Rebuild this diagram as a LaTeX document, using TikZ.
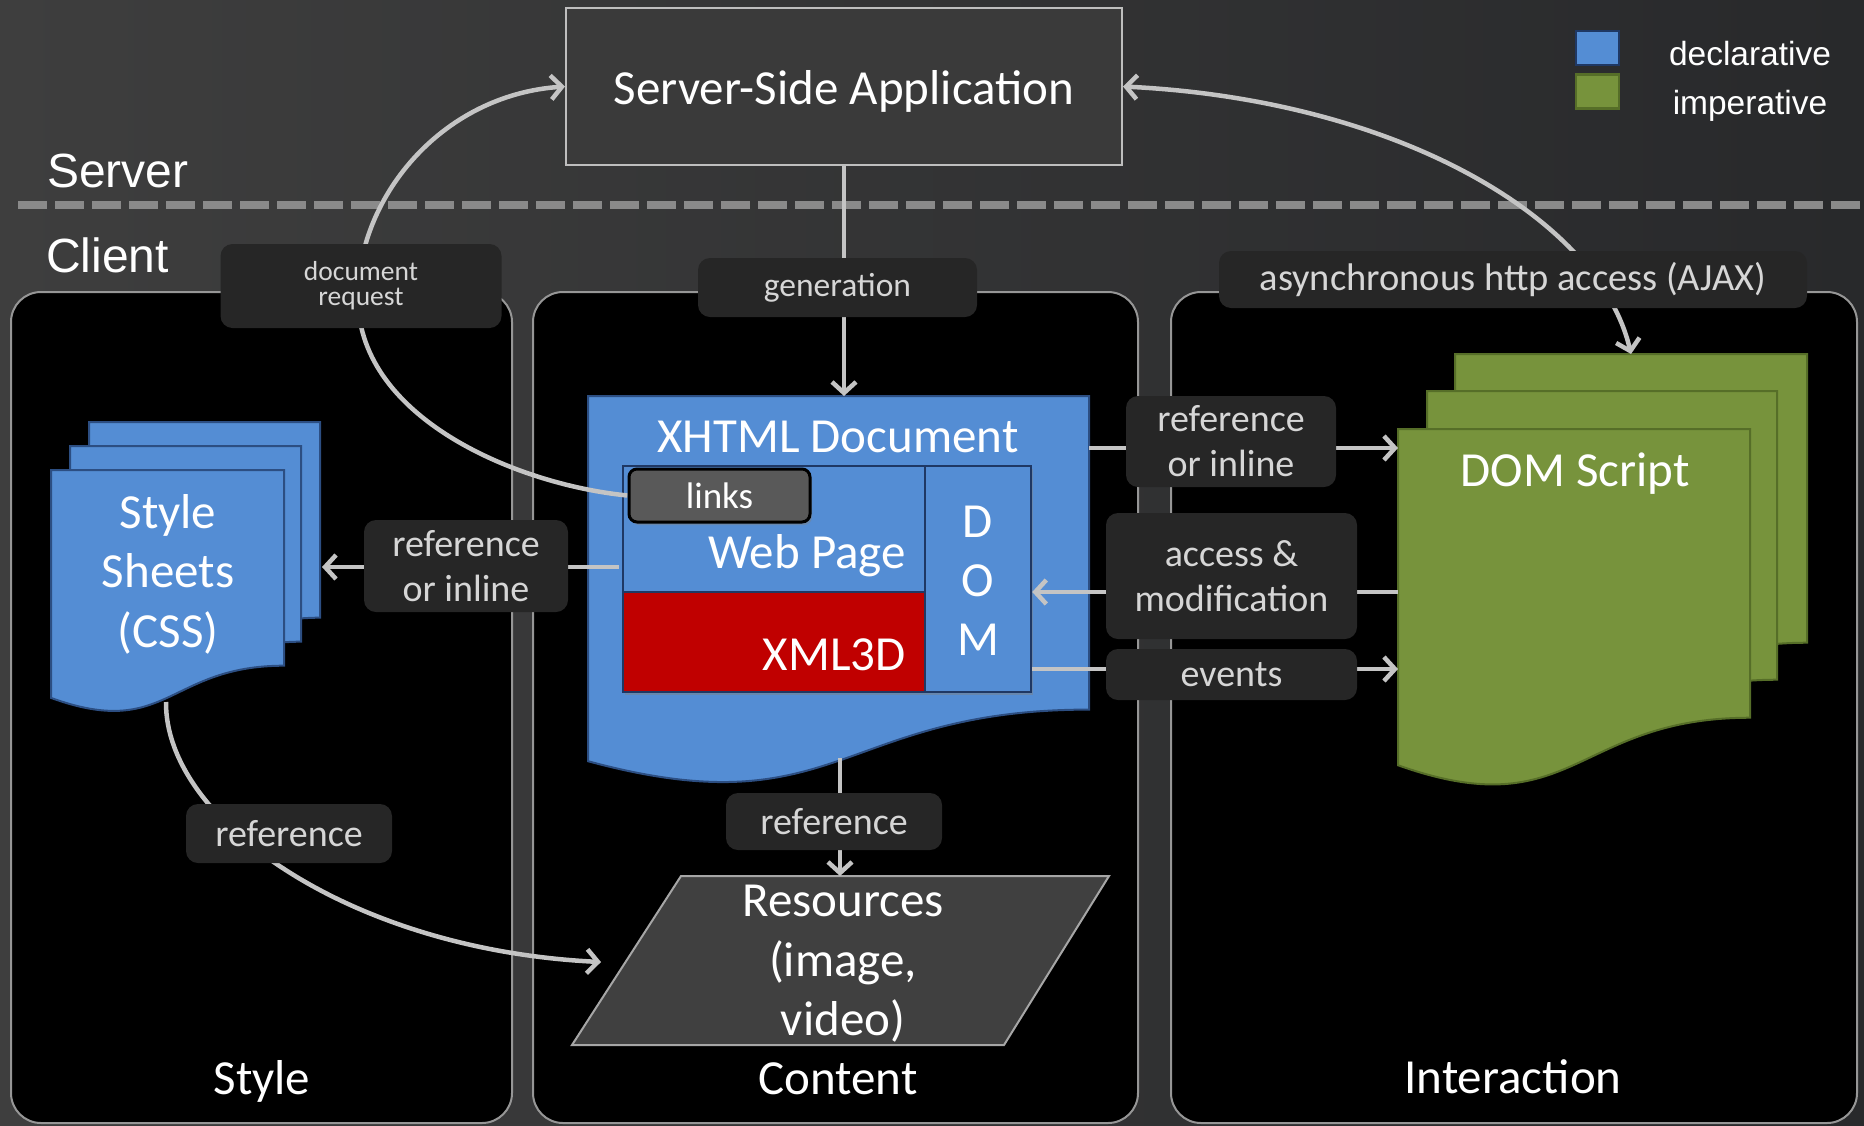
\documentclass[tikz,border=0pt]{standalone}
\usepackage{fontspec}
\setmainfont{Carlito}
\newfontfamily\arialf{Liberation Sans}
\usetikzlibrary{arrows.meta,shadows}
\pgfdeclarelayer{fg}
\pgfsetlayers{main,fg}
\definecolor{bgL}{RGB}{62,62,62}
\definecolor{bgR}{RGB}{40,41,43}
\definecolor{dashc}{RGB}{138,138,138}
\definecolor{arrc}{RGB}{196,196,196}
\definecolor{lblfill}{RGB}{38,38,38}
\definecolor{lbltext}{RGB}{214,214,214}
\definecolor{docblue}{RGB}{84,141,212}
\definecolor{docblueb}{RGB}{44,78,130}
\definecolor{navy}{RGB}{31,56,100}
\definecolor{xred}{RGB}{192,0,0}
\definecolor{docgreen}{RGB}{119,147,60}
\definecolor{docgreenb}{RGB}{86,110,40}
\definecolor{resfill}{RGB}{64,64,64}
\definecolor{resb}{RGB}{166,166,166}
\definecolor{linksfill}{RGB}{89,89,89}
\definecolor{panelb}{RGB}{150,150,150}
\definecolor{srvfill}{RGB}{58,58,58}
\definecolor{srvb}{RGB}{190,190,190}
\newcommand\fsz[2]{\fontsize{#1}{#2}\selectfont}
% #1 style, #2 x, #3 y, #4 width, #5 height
\newcommand\docshape[5]{%
  \path[#1] (#2,#3) -- ({#2+#4},#3) -- ({#2+#4},{#3+0.802*#5})
    .. controls ({#2+0.5*#4},{#3+0.802*#5}) and ({#2+0.5*#4},{#3+1.1075*#5}) .. (#2,{#3+0.934*#5}) -- cycle;}
\begin{document}
\begin{tikzpicture}[x=1pt,y=-1pt,
  conn/.style={draw=arrc,line width=4.5pt},
  arr/.style={conn,-{Straight Barb[length=11pt,width=24pt]}},
  dblarr/.style={conn,{Straight Barb[length=11pt,width=24pt]}-{Straight Barb[length=11pt,width=24pt]}},
  lbl/.style={fill=lblfill,rounded corners=12pt,text=lbltext,inner sep=0pt,align=center,font=\fsz{38}{45}},
  wtxt/.style={text=white,inner sep=0pt,align=center,font=\fsz{49}{59.5}},
  panel/.style={draw=panelb,line width=2pt,fill=black,rounded corners=30pt,inner sep=0pt},
  cell/.style={draw=navy,line width=2.5pt,inner sep=0pt,drop shadow={shadow xshift=2pt,shadow yshift=-3pt,opacity=0.45}},
  bluedoc/.style={fill=docblue,draw=docblueb,line width=2pt},
  greendoc/.style={fill=docgreen,draw=docgreenb,line width=2pt},
]
\useasboundingbox (0,0) rectangle (1864,1125);
\fill[left color=bgL,right color=bgR] (0,0) rectangle (1864,1125);

% server / client separation
\draw[dashc,line width=8pt,dash pattern=on 29pt off 8pt] (18,205) -- (1864,205);
\node[text=white,inner sep=0pt,anchor=base west,font=\arialf\fsz{48}{56}] (server) at (47,187) {Server};
\node[text=white,inner sep=0pt,anchor=base west,font=\arialf\fsz{48}{56}] (client) at (46,272) {Client};

% legend
\node[fill=docblue,draw=navy,line width=2.5pt,minimum width=43pt,minimum height=34pt,inner sep=0pt] (legblue) at (1597.5,48) {};
\node[fill=docgreen,draw=docgreenb,line width=2.5pt,minimum width=43pt,minimum height=34pt,inner sep=0pt] (leggreen) at (1597.5,91.5) {};
\node[text=white,inner sep=0pt,anchor=base,font=\arialf\fsz{33.5}{38}] (legdecl) at (1750,65) {declarative};
\node[text=white,inner sep=0pt,anchor=base,font=\arialf\fsz{33.5}{38}] (legimp) at (1750,114) {imperative};

% server box
\node[fill=srvfill,draw=srvb,line width=2pt,minimum width=556pt,minimum height=157pt,inner sep=0pt] (srv) at (844,86.5) {};
\node[wtxt,anchor=base] (srvtext) at (844,104) {Server-Side Application};

% panels
\node[panel,minimum width=501pt,minimum height=831pt] (pstyle) at (261.5,707.5) {};
\node[panel,minimum width=605pt,minimum height=831pt] (pcontent) at (835.5,707.5) {};
\node[panel,minimum width=686pt,minimum height=831pt] (pinter) at (1514,707.5) {};
\node[wtxt,anchor=base] (tstyle) at (262,1094) {Style};
\node[wtxt,anchor=base] (tcontent) at (838,1094) {Content};
\node[wtxt,anchor=base] (tinter) at (1513,1093) {Interaction};

% style sheets
\docshape{bluedoc}{89}{422}{231}{244}
\docshape{bluedoc}{70}{446}{231}{244}
\docshape{bluedoc}{51}{470}{233}{244}
\node[wtxt] (csstext) at (168,574) {Style\\Sheets\\(CSS)};
\coordinate (css-e) at (322,567);
\coordinate (css-s) at (166,702);

% XHTML document
\docshape{bluedoc}{588}{396}{501}{391}
\node[wtxt,anchor=base] (xhtext) at (838,452) {XHTML Document};
\coordinate (xh-n) at (842,396);
\coordinate (xh-e) at (1089,448);
\coordinate (xh-s) at (840,758);
\node[cell,fill=docblue,minimum width=302pt,minimum height=126pt] (webpage) at (774,529) {};
\node[cell,fill=xred,minimum width=302pt,minimum height=100pt] (xml3d) at (774,642) {};
\node[cell,fill=docblue,minimum width=106pt,minimum height=226pt] (dom) at (978,579) {};
\node[wtxt,anchor=base east] (wptext) at (906,568) {Web Page};
\node[wtxt,anchor=base east] (x3dtext) at (906,670) {XML3D};
\node[wtxt,anchor=base] (domD) at (978,537) {D};
\node[wtxt,anchor=base] (domO) at (978,596) {O};
\node[wtxt,anchor=base] (domM) at (978,655) {M};
\coordinate (wp-l) at (619,567);
% links box, on a layer above its connector
\begin{pgfonlayer}{fg}
\node[fill=linksfill,draw=black,line width=3pt,rounded corners=8pt,minimum width=181pt,minimum height=53pt,inner sep=0pt,text=white,font=\fsz{37}{42},drop shadow={shadow xshift=2pt,shadow yshift=-3pt,opacity=0.45}] (links) at (719.5,495.5) {links};
\end{pgfonlayer}

% DOM script
\docshape{greendoc}{1455}{354}{352}{360}
\docshape{greendoc}{1427}{391}{350}{360}
\docshape{greendoc}{1398}{429}{352}{360}
\node[wtxt,anchor=base] (dstext) at (1575,486) {DOM Script};
\coordinate (ds-n) at (1631,354);
\coordinate (ds-w1) at (1398,448);
\coordinate (ds-w2) at (1398,592);
\coordinate (ds-w3) at (1398,669);

% resources
\path[fill=resfill,draw=resb,line width=2pt] (681,876) -- (1109,876) -- (1004,1045) -- (572,1045) -- cycle;
\node[wtxt] (restext) at (843,964) {Resources\\(image,\\video)};
\coordinate (res-n) at (840,876);
\coordinate (res-w) at (601,962);

% connectors
\draw[arr] (srv.south) -- (srv.south |- xh-n);
\draw[arr] (links.west) .. controls (520,485) and (360,420) .. (358,300)
  .. controls (356,200) and (440,95) .. (srv.west);
\draw[dblarr] (ds-n) .. controls (1600,220) and (1400,100) .. (srv.east);
\draw[arr] (wp-l) -- (css-e);
\draw[arr] (xh-e) -- (ds-w1);
\draw[arr] (ds-w2) -- (dom.east |- ds-w2);
\draw[arr] (dom.east |- ds-w3) -- (ds-w3);
\draw[arr] (xh-s) -- (res-n);
\draw[arr] (css-s) .. controls (165,820) and (350,950) .. (res-w);

% labels
\node[lbl,font=\fsz{27.5}{25},minimum width=281pt,minimum height=84pt] (ldoc) at (361,286) {document\\request};
\node[lbl,font=\fsz{33.5}{38},minimum width=279pt,minimum height=59pt] (lgen) at (837.5,287.5) {generation};
\node[lbl,font=\fsz{38.5}{45},minimum width=588pt,minimum height=57pt] (lajax) at (1513,279.5) {asynchronous http access (AJAX)};
\node[lbl,minimum width=204pt,minimum height=92pt] (lrefL) at (466,566) {reference\\or inline};
\node[lbl,minimum width=210pt,minimum height=91pt] (lrefR) at (1231,441.5) {reference\\or inline};
\node[lbl,minimum width=251pt,minimum height=126pt] (lacc) at (1231.5,576) {access \&\\modification};
\node[lbl,minimum width=251pt,minimum height=51pt] (levt) at (1231.5,674.5) {events};
\node[lbl,minimum width=216pt,minimum height=57pt] (lrefC) at (834,821.5) {reference};
\node[lbl,minimum width=206pt,minimum height=59pt] (lrefS) at (289,833.5) {reference};
\end{tikzpicture}
\end{document}
